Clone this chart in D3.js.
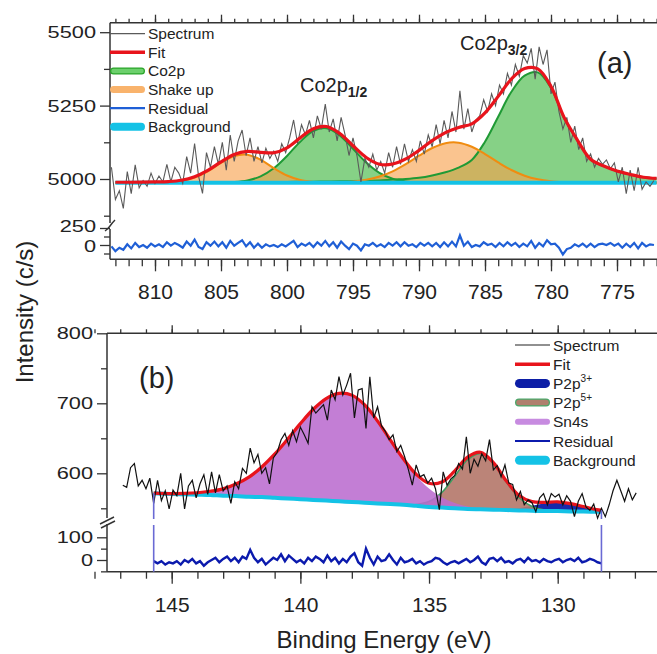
<!DOCTYPE html>
<html><head><meta charset="utf-8">
<script src="https://cdn.jsdelivr.net/npm/d3@7"></script>
<style>body{margin:0;background:#fff}text{font-family:"Liberation Sans",Arial,sans-serif}</style>
</head><body><svg id="c" width="657" height="654"></svg>
<script>
// ---------- Panel (a): Co2p ----------
const compEnergyA = [813,812,811,810,809,808,807,806,805,804,803,802,801,800,799,798,797,796,795,794,793,792,791,790,789,788,787,786,785,784,783,782,781,780,779,778,777,776,775,774,773,772];
const bgA = [4987,4987,4987,4987,4987,4987,4987,4987,4987,4987,4987,4987,4987,4987,4987,4987,4987,4987,4987,4987,4987,4987,4987,4987,4987,4987,4987,4987,4987,4987,4987,4987,4987,4987,4987,4987,4987,4987,4987,4987,4987,4987];
const shakeUp1A = [0,0,0.1,0.4,1.7,6.1,17.6,39,67.6,91.3,95.9,78.6,50,24.8,9.6,2.9,0.7,0.1,0,0,0,0,0,0,0,0,0,0,0,0,0,0,0,0,0,0,0,0,0,0,0,0];
const co2p12A = [0,0,0,0,0,0,0,0.1,0.6,2.5,8.2,22.2,49.5,91.5,140,177.3,185.9,161.4,115.9,69,33.9,13.8,4.7,1.3,0.3,0,0,0,0,0,0,0,0,0,0,0,0,0,0,0,0,0];
const shakeUp2A = [0,0,0,0,0,0,0,0,0,0,0,0,0,0,0,0.2,0.6,1.7,4.4,10.3,21.3,39.2,63.8,92.3,118.5,135,136.7,122.8,98,69.4,43.6,24.3,12.1,5.3,2.1,0.7,0.2,0,0,0,0,0];
const co2p32A = [2,2,2,2.5,2.5,2.5,3,3,3,3,3,3,3,3,3.5,4,4.5,5,6,7,8,11,13,17,25,36,52,78,140,225,310,365,376,323,220,145,80,57,40,28.5,19,15];
const spectrumStartA = 813.3, spectrumStepA = 0.3;
const spectrumA = [5040,4930,4960,4900,5025,4950,5048,4970,4995,4975,
 5020,4985,5010,4990,5050,4990,5040,5020,4985,5076,
 5020,5121,5010,4951,5090,5040,5110,5050,5125,5030,
 5150,5060,5130,5167,5080,5140,5060,5110,5055,5105,
 5070,5095,5060,5120,5090,5140,5201,5120,5185,5150,
 5200,5140,5215,5170,5255,5160,5205,5130,5210,5150,
 5080,5140,5080,4990,5070,5040,5085,5030,5060,5020,
 5090,5040,5110,5050,5120,5060,5100,5060,5130,5085,
 5150,5110,5185,5120,5200,5140,5230,5160,5300,5170,
 5240,5160,5200,5215,5270,5230,5290,5250,5320,5290,
 5360,5320,5390,5350,5420,5395,5445,5340,5450,5390,
 5440,5290,5330,5230,5170,5210,5125,5180,5100,5140,
 5060,5085,5040,5070,5050,5065,5035,5055,4990,5040,
 4950,5030,4960,5040,4965,4990,4975,4995];
const residualA = [-20,-90,-40,-70,10,-50,30,-30,0,-40,
 20,-20,10,-30,40,-10,30,0,-40,50,
 -10,80,-30,-60,40,-10,50,-20,40,-40,
 60,-10,30,70,-20,40,-40,20,-40,10,
 -20,0,-30,10,-20,20,60,-30,20,-10,
 30,-30,40,-10,60,-20,40,-40,50,-10,
 -60,20,-10,-80,10,-10,30,-20,10,-30,
 30,-10,40,-20,40,-10,10,-30,30,-10,
 30,-20,30,-30,40,-20,50,-20,140,-10,
 50,-30,0,-20,40,0,20,-30,30,-20,
 40,-10,30,-30,20,-20,60,-40,30,-20,
 70,10,20,-40,-140,-60,-40,10,-20,20,
 -30,20,-30,10,20,0,30,-10,20,-40,
 20,-30,30,-50,30,-20,10,0];
const xTicksA = [810,805,800,795,790,785,780,775];
const yTicksA = [5000,5250,5500];
const yMinorA = [4875,5125,5375];
const rTicksA = [0,250];
const rMinorA = [-125,125];
const legendA = ["Spectrum","Fit","Co2p","Shake up","Residual","Background"];

// ---------- Panel (b): Sn4s / P2p ----------
const compEnergyB = [145.7,145,144.5,144,143.5,143,142.5,142,141.5,141,140.5,140,139.5,139,138.5,138,137.5,137,136.5,136,135.5,135,134.5,134,133.5,133,132.5,132,131.5,131,130.5,130,129.5,129,128.5,128.3];
const bgB = [571.5,570.5,570,569.5,569,568,567.5,566.5,566,565,564,563,562,561,560,559,558,557,556,555,553.5,552,551,550,549,548.5,548,547.5,547,546.5,546,546,545.5,545.5,545,545];
const sn4sB = [0.2,0.6,1.3,2.7,5.3,9.8,17.1,28,43.1,62.3,84.6,108,129.5,145.8,154.2,152.7,139.6,117.6,91.3,65.4,43.1,26.2,14.7,7.6,3.6,1.6,0.6,0.2,0,0,0,0,0,0,0,0];
const p2p5B = [0,0,0,0,0,0,0,0,0,0,0,0,0,0,0,0,0,0,0.1,0.4,2,7.6,21.8,45.8,70.6,79.9,66.4,40.5,18.1,6,1.4,0.3,0,0,0,0];
const p2p3B = [0,0,0,0,0,0,0,0,0,0,0,0,0,0,0,0,0,0,0,0,0,0,0,0,0,0,0.3,1.1,3.2,7,11.1,13,11.1,7,3.2,2.2];
const spectrumStartB = 146.9, spectrumStepB = 0.15;
const spectrumB = [583,580,608,614,582,590,578,593,557,590,
 561,575,549,576,568,600,549,582,590,565,
 585,598,570,602,572,598,575,582,557,588,
 578,607,600,636,615,627,600,608,585,622,
 630,648,657,640,661,645,666,655,643,695,
 686,692,698,676,719,705,738,712,726,743,
 679,719,721,664,738,679,695,668,660,648,
 655,631,640,624,605,583,612,595,598,586,
 593,578,548,602,583,592,597,614,606,652,
 600,620,610,628,618,648,605,611,595,612,
 586,584,562,574,555,562,558,545,565,571,
 555,571,566,570,555,568,560,538,560,571,
 552,547,556,536,550,538,555,575,590,575,
 560,578,562,572];
const residualStartB = 145.7, residualStepB = 0.15;
const residualB = [-5,-15,-5,-20,-10,-15,-5,-20,0,-10,
 5,-15,-5,-25,-10,0,10,-10,5,15,
 -5,10,-10,15,5,45,10,-10,5,-20,
 -5,10,0,25,-5,20,5,-10,0,-15,
 10,-5,15,5,-10,20,-5,10,-15,5,
 -10,15,30,-10,-25,50,10,-20,15,-5,
 0,25,0,-20,10,-10,-5,5,-15,-5,
 -20,-10,-5,10,5,-10,-20,-10,-5,-15,
 -5,5,-10,0,15,-10,-20,5,10,-5,
 10,-10,-5,-15,0,5,-10,10,-5,0,
 -10,5,-5,-10,0,5,-10,0,5,-5,
 10,-10,-5,5,0,-10,-15];
const xTicksB = [145,140,135,130];
const yTicksB = [600,700,800];
const yMinorB = [550,650,750];
const rTicksB = [0,100];
const rMinorB = [-50,50];
const legendB = ["Spectrum","Fit","P2p|3+","P2p|5+","Sn4s","Residual","Background"];

// ---------- drawing ----------
const svg = d3.select('#c');
const AX = '#333';
const C = {spec:'#5a5a5a', fit:'#e8141c', green:'#3cb43c', greenEdge:'#1f9a35', orange:'#f7a04a', orangeEdge:'#f08c10',
  resA:'#1f5fd6', bg:'#14c2e6', specB:'#111', sn:'#bb6ccf', p5:'#b57a6d', p5Edge:'#3e9d60', p3:'#0c1ea6', resB:'#0b1aad', marker:'#6a6ad4'};

function styleAxis(g, fs){
  g.select('.domain').remove();
  g.selectAll('line').attr('stroke',AX).attr('stroke-width',1.3);
  g.selectAll('text').attr('font-size',fs||21).attr('fill','#222').style('font-family','"Liberation Sans",Arial,sans-serif');
}
// y tick labels: shorter glyphs, widened like the reference; residual labels nudged apart
function yLabels(spread){
  return g=>{
    styleAxis(g, 17);
    g.selectAll('text').attr('x',0)
      .attr('transform',d=>`translate(-14,${spread ? (d>0 ? -1.5 : 1.5) : 0}) scale(1.28,1)`);
  };
}

function frame(P, x, majors, minors, yU, yUt, yUm, yR, yRt, yRm, spread){
  const right = 670;
  svg.append('g').attr('transform',`translate(0,${P.bottom})`)
    .call(d3.axisBottom(x).tickValues(minors).tickSize(7).tickFormat('')).call(g=>styleAxis(g));
  svg.append('g').attr('transform',`translate(0,${P.bottom})`)
    .call(d3.axisBottom(x).tickValues(majors).tickSize(12).tickPadding(13).tickFormat(d3.format('d'))).call(g=>styleAxis(g));
  svg.append('g').attr('transform',`translate(0,${P.top})`)
    .call(d3.axisTop(x).tickValues(minors).tickSize(4).tickFormat('')).call(g=>styleAxis(g));
  svg.append('g').attr('transform',`translate(0,${P.top})`)
    .call(d3.axisTop(x).tickValues(majors).tickSize(8).tickFormat('')).call(g=>styleAxis(g));
  svg.append('g').attr('transform',`translate(${P.left},0)`)
    .call(d3.axisLeft(yU).tickValues(yUm).tickSize(6).tickFormat('')).call(g=>styleAxis(g));
  svg.append('g').attr('transform',`translate(${P.left},0)`)
    .call(d3.axisLeft(yU).tickValues(yUt).tickSize(10).tickPadding(4).tickFormat(d3.format('d'))).call(yLabels(false));
  svg.append('g').attr('transform',`translate(${P.left},0)`)
    .call(d3.axisLeft(yR).tickValues(yRm).tickSize(6).tickFormat('')).call(g=>styleAxis(g));
  svg.append('g').attr('transform',`translate(${P.left},0)`)
    .call(d3.axisLeft(yR).tickValues(yRt).tickSize(10).tickPadding(4).tickFormat(d3.format('d'))).call(yLabels(spread));
  const ln = (x1,y1,x2,y2)=>svg.append('line').attr('x1',x1).attr('y1',y1).attr('x2',x2).attr('y2',y2).attr('stroke',AX).attr('stroke-width',1.5);
  ln(P.left, P.top, right, P.top);
  ln(P.left, P.bottom, right, P.bottom);
  ln(P.left, P.top, P.left, P.brk-3);
  ln(P.left, P.brk+3, P.left, P.bottom);
}

function legend(items, x0, y0, dy, styles){
  items.forEach((name,i)=>{
    const y = y0 + i*dy;
    const s = styles[i];
    if (s.band){
      svg.append('line').attr('x1',x0+s.band/2).attr('x2',x0+35-s.band/2).attr('y1',y).attr('y2',y)
        .attr('stroke',s.edge||s.color).attr('stroke-width',s.band).attr('stroke-linecap','round');
      if (s.edge) svg.append('line').attr('x1',x0+s.band/2).attr('x2',x0+35-s.band/2).attr('y1',y).attr('y2',y)
        .attr('stroke',s.color).attr('stroke-width',s.band-2.5).attr('stroke-linecap','round');
    } else {
      svg.append('line').attr('x1',x0).attr('x2',x0+35).attr('y1',y).attr('y2',y)
        .attr('stroke',s.color).attr('stroke-width',s.w);
    }
    const parts = name.split('|');
    const t = svg.append('text').attr('x',x0+38).attr('y',y+5.5).attr('font-size',15.5).attr('fill','#222');
    t.append('tspan').text(parts[0]);
    if (parts[1]) t.append('tspan').attr('font-size',10).attr('dy',-7).text(parts[1]);
  });
}

// ===== Panel (a) =====
const PA = {left:110, top:22.7, brk:226, bottom:259.3};
const xA = d3.scaleLinear().domain([810,775]).range([155,617]);
const yA = d3.scaleLinear().domain([5000,5500]).range([179,32.2]);
const rA = d3.scaleLinear().domain([0,250]).range([245,228]);
const minorA = d3.range(772,814,1);
frame(PA, xA, xTicksA, minorA, yA, yTicksA, yMinorA, rA, rTicksA, rMinorA, true);
svg.append('path').attr('d','M105,231 Q108,229 110,226 T115,220').attr('fill','none').attr('stroke',AX).attr('stroke-width',1.4);

const curve = d3.curveCatmullRom;
function compArea(x,y,E,bg,comp){
  return d3.area().x((d,i)=>x(E[i])).y0((d,i)=>y(bg[i])).y1((d,i)=>y(bg[i]+comp[i])).curve(curve)(comp);
}
function compLine(x,y,E,bg,comp){
  return d3.line().x((d,i)=>x(E[i])).y((d,i)=>y(bg[i]+comp[i])).curve(curve)(comp);
}
[co2p12A, co2p32A].forEach(c=>svg.append('path').attr('d',compArea(xA,yA,compEnergyA,bgA,c)).attr('fill',C.green).attr('fill-opacity',0.62));
[shakeUp1A, shakeUp2A].forEach(c=>svg.append('path').attr('d',compArea(xA,yA,compEnergyA,bgA,c)).attr('fill',C.orange).attr('fill-opacity',0.62));
[co2p12A, co2p32A].forEach(c=>svg.append('path').attr('d',compLine(xA,yA,compEnergyA,bgA,c)).attr('fill','none').attr('stroke',C.greenEdge).attr('stroke-width',2));
[shakeUp1A, shakeUp2A].forEach(c=>svg.append('path').attr('d',compLine(xA,yA,compEnergyA,bgA,c)).attr('fill','none').attr('stroke',C.orangeEdge).attr('stroke-width',2));
svg.append('path').attr('d',d3.line().x((d,i)=>xA(compEnergyA[i])).y(d=>yA(d))(bgA)).attr('fill','none').attr('stroke',C.bg).attr('stroke-width',4);
const eSpecA = d3.range(spectrumA.length).map(i=>spectrumStartA - i*spectrumStepA);
svg.append('path').attr('d',d3.line().x((d,i)=>xA(eSpecA[i])).y(d=>yA(d))(spectrumA)).attr('fill','none').attr('stroke',C.spec).attr('stroke-width',1.1);
const fitA = compEnergyA.map((e,i)=>bgA[i]+shakeUp1A[i]+co2p12A[i]+shakeUp2A[i]+co2p32A[i]);
svg.append('path').attr('d',d3.line().x((d,i)=>xA(compEnergyA[i])).y(d=>yA(d)).curve(curve)(fitA)).attr('fill','none').attr('stroke',C.fit).attr('stroke-width',3.2);
const eResA = d3.range(residualA.length).map(i=>spectrumStartA - i*spectrumStepA);
svg.append('path').attr('d',d3.line().x((d,i)=>xA(eResA[i])).y(d=>rA(d))(residualA)).attr('fill','none').attr('stroke',C.resA).attr('stroke-width',2.2);

legend(legendA, 110, 33.7, 18.6, [
  {color:C.spec, w:1.2}, {color:C.fit, w:3.5}, {band:7, color:'#6cd06c', edge:'#2aa52a'},
  {band:7, color:'#f9b36c'}, {color:C.resA, w:2.2}, {band:8, color:C.bg}]);

function label(x,y,main,sub,fs){
  const t = svg.append('text').attr('x',x).attr('y',y).attr('font-size',fs).attr('fill','#222');
  t.append('tspan').text(main);
  t.append('tspan').attr('font-size',fs*0.7).attr('font-weight','bold').attr('dy',5).text(sub);
}
label(300,91.7,'Co2p','1/2',20);
label(460,50,'Co2p','3/2',20);
svg.append('text').attr('x',597).attr('y',73).attr('font-size',29).attr('fill','#222').text('(a)');

// ===== Panel (b) =====
const PB = {left:107, top:333.3, brk:521, bottom:571.7};
const xB = d3.scaleLinear().domain([145,130]).range([171.7,557.7]);
const yB = d3.scaleLinear().domain([600,700]).range([473.3,403.3]);
const rB = d3.scaleLinear().domain([0,100]).range([560,537.3]);
const minorB = d3.range(126,149,1);
frame(PB, xB, xTicksB, minorB, yB, yTicksB, yMinorB, rB, rTicksB, rMinorB, false);
svg.append('line').attr('x1',100).attr('y1',524).attr('x2',114).attr('y2',517).attr('stroke',AX).attr('stroke-width',1.4);
svg.append('line').attr('x1',101).attr('y1',528).attr('x2',115).attr('y2',521).attr('stroke',AX).attr('stroke-width',1.4);

svg.append('path').attr('d',compArea(xB,yB,compEnergyB,bgB,p2p3B)).attr('fill',C.p3).attr('fill-opacity',0.95);
svg.append('path').attr('d',compArea(xB,yB,compEnergyB,bgB,p2p5B)).attr('fill',C.p5).attr('fill-opacity',0.92);
svg.append('path').attr('d',compLine(xB,yB,compEnergyB,bgB,p2p5B)).attr('fill','none').attr('stroke',C.p5Edge).attr('stroke-width',1.6);
svg.append('path').attr('d',compArea(xB,yB,compEnergyB,bgB,sn4sB)).attr('fill',C.sn).attr('fill-opacity',0.88);
svg.append('path').attr('d',d3.line().x((d,i)=>xB(compEnergyB[i])).y(d=>yB(d)).curve(curve)(bgB)).attr('fill','none').attr('stroke',C.bg).attr('stroke-width',4);
const fitB = compEnergyB.map((e,i)=>bgB[i]+sn4sB[i]+p2p5B[i]+p2p3B[i]);
svg.append('path').attr('d',d3.line().x((d,i)=>xB(compEnergyB[i])).y(d=>yB(d)).curve(curve)(fitB)).attr('fill','none').attr('stroke',C.fit).attr('stroke-width',3.2);
const eSpecB = d3.range(spectrumB.length).map(i=>spectrumStartB - i*spectrumStepB);
svg.append('path').attr('d',d3.line().x((d,i)=>xB(eSpecB[i])).y(d=>yB(d))(spectrumB)).attr('fill','none').attr('stroke',C.specB).attr('stroke-width',1.2);
const eResB = d3.range(residualB.length).map(i=>residualStartB - i*residualStepB);
svg.append('path').attr('d',d3.line().x((d,i)=>xB(eResB[i])).y(d=>rB(d))(residualB)).attr('fill','none').attr('stroke',C.resB).attr('stroke-width',2.4);
[0, compEnergyB.length-1].forEach(i=>{
  const xm = xB(compEnergyB[i]);
  svg.append('line').attr('x1',xm).attr('x2',xm).attr('y1',yB(fitB[i])).attr('y2',PB.brk-2).attr('stroke',C.marker).attr('stroke-width',1.6);
  svg.append('line').attr('x1',xm).attr('x2',xm).attr('y1',PB.brk+4).attr('y2',PB.bottom).attr('stroke',C.marker).attr('stroke-width',1.6);
});

legend(legendB, 515, 345, 19.2, [
  {color:'#222', w:1.2}, {color:C.fit, w:3.5}, {band:9, color:C.p3},
  {band:8, color:'#b0806e', edge:'#4aa86a'}, {band:6, color:'#c78be0'}, {color:C.resB, w:2.2}, {band:9, color:C.bg}]);
svg.append('text').attr('x',139).attr('y',388).attr('font-size',29).attr('fill','#222').text('(b)');

svg.append('text').attr('transform','translate(33,312) rotate(-90)').attr('text-anchor','middle').attr('font-size',24).attr('fill','#222').text('Intensity (c/s)');
svg.append('text').attr('x',384).attr('y',648).attr('text-anchor','middle').attr('font-size',24).attr('fill','#222').text('Binding Energy (eV)');
</script></body></html>
